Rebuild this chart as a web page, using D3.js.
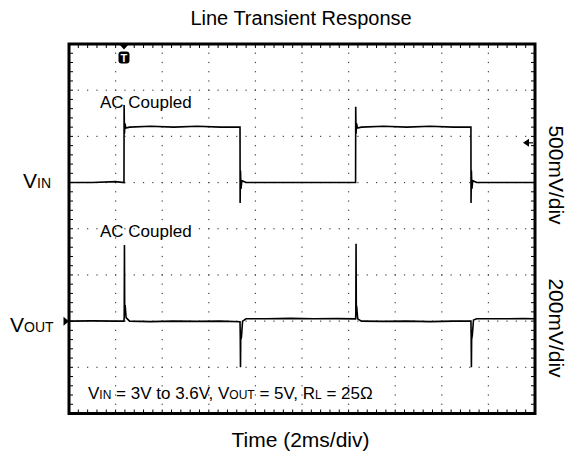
<!DOCTYPE html>
<html>
<head>
<meta charset="utf-8">
<script src="https://cdn.jsdelivr.net/npm/d3@7/dist/d3.min.js"></script>
<style>
  body { margin: 0; background: #fff; }
  svg { display: block; font-family: "Liberation Sans", Arial, sans-serif; }
</style>
</head>
<body>
<div id="chart"></div>
<script>
// Scope settings
const timeDomain = [0, 20];          // ms, 2ms/div, 10 div
const divDomain = [-4, 4];           // vertical divisions
const vinPerDiv = 0.5;               // V/div
const vinRefLevel = 3.0;             // V shown at vinRefPos
const vinRefPos = 1;                 // div
const voutPerDiv = 200;              // mV/div (AC coupled)
const voutRefPos = -2;               // div
const triggerTime = 2.36;            // ms
const triggerLevel = 3.43;           // V

// VIN trace (time in ms, volts)
const vinTime = [0, 1.0, 2.0, 2.36, 2.365, 2.38, 2.40, 2.44, 2.6, 3.5, 4.5, 5.5, 6.5, 7.34,
  7.345, 7.36, 7.38, 7.42, 7.6, 8.5, 9.5, 10.5, 11.5, 12.30, 12.305, 12.32, 12.34, 12.38,
  12.55, 13.5, 14.5, 15.5, 16.5, 17.25, 17.255, 17.27, 17.29, 17.33, 17.5, 18.5, 19.5, 20];
const vinVolts = [3.00, 3.00, 3.01, 3.00, 3.84, 3.53, 3.64, 3.59, 3.60, 3.61, 3.60, 3.61, 3.60, 3.60,
  2.78, 3.13, 2.93, 3.02, 3.00, 3.00, 3.00, 3.00, 3.00, 3.00, 3.82, 3.53, 3.64, 3.59,
  3.60, 3.61, 3.60, 3.61, 3.60, 3.60, 2.78, 3.13, 2.93, 3.02, 3.00, 3.00, 3.00, 3.00];

// VOUT trace (time in ms, mV deviation)
const voutTime = [0, 1.0, 2.0, 2.36, 2.37, 2.38, 2.39, 2.41, 2.45, 2.6, 3.5, 4.5, 5.5, 6.5, 7.34,
  7.35, 7.36, 7.37, 7.40, 7.45, 7.6, 8.5, 9.5, 10.5, 11.5, 12.30, 12.31, 12.32, 12.33, 12.35,
  12.39, 12.55, 13.5, 14.5, 15.5, 16.5, 17.25, 17.26, 17.27, 17.28, 17.31, 17.36, 17.5, 18.5, 19.5, 20];
const voutMv = [0, 1, 0, 0, 20, 330, 60, 70, 15, 0, -2, 0, -1, 0, -3,
  -60, -200, -80, -70, 0, 10, 10, 12, 10, 11, 10, 30, 335, 70, 60,
  10, 0, -1, 0, -2, 0, 0, -60, -200, -80, -60, 5, 10, 10, 11, 10];

const titleText = 'Line Transient Response';
const xAxisText = 'Time (2ms/div)';
const vinScaleText = '500mV/div';
const voutScaleText = '200mV/div';
const couplingText = 'AC Coupled';

const width = 570, height = 454;
const svg = d3.select('#chart').append('svg')
  .attr('width', width)
  .attr('height', height);

const x = d3.scaleLinear().domain(timeDomain).range([69, 535]);
const y = d3.scaleLinear().domain(divDomain).range([413.5, 44]);

const vinDiv = v => (v - vinRefLevel) / vinPerDiv + vinRefPos;
const voutDiv = mv => mv / voutPerDiv + voutRefPos;

// Grid dots along major divisions
const majorX = d3.range(1, 10).map(i => i * 2);
const majorY = d3.range(-3, 4);
const minorX = d3.range(0, 51).map(i => i * 0.4);
const minorY = d3.range(0, 41).map(i => -4 + i * 0.2);

const grid = svg.append('g').attr('fill', '#444');
majorX.forEach(t => {
  grid.selectAll(null)
    .data(minorY)
    .enter().append('rect')
    .attr('x', x(t) - 0.6)
    .attr('y', d => y(d) - 0.6)
    .attr('width', 1.2)
    .attr('height', 1.2);
});
majorY.forEach(dv => {
  grid.selectAll(null)
    .data(minorX)
    .enter().append('rect')
    .attr('x', d => x(d) - 0.6)
    .attr('y', y(dv) - 0.6)
    .attr('width', 1.2)
    .attr('height', 1.2);
});

// Border ticks
const ticks = svg.append('g').attr('stroke', '#000').attr('stroke-width', 1);
ticks.selectAll('.tt').data(minorX).enter().append('line')
  .attr('x1', d => x(d)).attr('x2', d => x(d))
  .attr('y1', y(4)).attr('y2', y(4) + 4);
ticks.selectAll('.tb').data(minorX).enter().append('line')
  .attr('x1', d => x(d)).attr('x2', d => x(d))
  .attr('y1', y(-4)).attr('y2', y(-4) - 4);
ticks.selectAll('.tl').data(minorY).enter().append('line')
  .attr('x1', x(0)).attr('x2', x(0) + 4)
  .attr('y1', d => y(d)).attr('y2', d => y(d));
ticks.selectAll('.tr').data(minorY).enter().append('line')
  .attr('x1', x(20)).attr('x2', x(20) - 4)
  .attr('y1', d => y(d)).attr('y2', d => y(d));

// Traces
const vinData = vinTime.map((t, i) => ({ t, v: vinDiv(vinVolts[i]) }));
const voutData = voutTime.map((t, i) => ({ t, v: voutDiv(voutMv[i]) }));
const line = d3.line().x(d => x(d.t)).y(d => y(d.v));

svg.append('path')
  .datum(vinData)
  .attr('fill', 'none')
  .attr('stroke', '#000')
  .attr('stroke-width', 1.6)
  .attr('d', line);

svg.append('path')
  .datum(voutData)
  .attr('fill', 'none')
  .attr('stroke', '#000')
  .attr('stroke-width', 1.6)
  .attr('d', line);

// Frame
svg.append('rect')
  .attr('x', x(0)).attr('y', y(4))
  .attr('width', x(20) - x(0)).attr('height', y(-4) - y(4))
  .attr('fill', 'none')
  .attr('stroke', '#000')
  .attr('stroke-width', 3);

// Trigger position marker
const tx = x(triggerTime), ty = y(4);
svg.append('path')
  .attr('d', `M${tx - 5},${ty} L${tx + 5},${ty} L${tx},${ty + 5.5} Z`)
  .attr('fill', '#000');
svg.append('rect')
  .attr('x', tx - 5.5).attr('y', ty + 7.5)
  .attr('width', 11).attr('height', 12)
  .attr('rx', 3)
  .attr('fill', '#000');
svg.append('text')
  .attr('x', tx).attr('y', ty + 17.5)
  .attr('text-anchor', 'middle')
  .attr('fill', '#fff')
  .style('font-size', '11px')
  .style('font-weight', 'bold')
  .text('T');

// Trigger level marker (right)
const ly = y(vinDiv(triggerLevel));
svg.append('path')
  .attr('d', `M${x(20) - 12},${ly} L${x(20) - 6},${ly - 4} L${x(20) - 6},${ly + 4} Z`)
  .attr('fill', '#000');
svg.append('line')
  .attr('x1', x(20) - 7).attr('x2', x(20) - 2)
  .attr('y1', ly).attr('y2', ly)
  .attr('stroke', '#000').attr('stroke-width', 1.2);

// VOUT ground marker (left)
const gy = y(voutRefPos);
svg.append('path')
  .attr('d', `M${x(0) - 5.5},${gy - 4.5} L${x(0)},${gy} L${x(0) - 5.5},${gy + 4.5} Z`)
  .attr('fill', '#000');

// Text
svg.append('text')
  .attr('x', 301).attr('y', 25)
  .attr('text-anchor', 'middle')
  .style('font-size', '20px')
  .text(titleText);

svg.append('text')
  .attr('x', 300.5).attr('y', 447)
  .attr('text-anchor', 'middle')
  .style('font-size', '21px')
  .text(xAxisText);

[[108], [237]].forEach(([by]) => {
  svg.append('text')
    .attr('x', 100).attr('y', by)
    .style('font-size', '17px')
    .text(couplingText);
});

function subLabel(px, py, parts, big, small) {
  const t = svg.append('text').attr('x', px).attr('y', py);
  parts.forEach(([s, sub]) => {
    t.append('tspan')
      .style('font-size', sub ? small : big)
      .text(s);
  });
  return t;
}

subLabel(23, 188, [['V', 0], ['IN', 1]], '21px', '14px');
subLabel(10, 332, [['V', 0], ['OUT', 1]], '21px', '14px');
subLabel(88, 399, [
  ['V', 0], ['IN', 1], [' = 3V to 3.6V, V', 0], ['OUT', 1], [' = 5V, R', 0], ['L', 1], [' = 25\u03A9', 0]
], '17px', '12px');

[[vinScaleText, 175], [voutScaleText, 328]].forEach(([s, cy]) => {
  svg.append('text')
    .attr('transform', `translate(556.5,${cy}) rotate(90)`)
    .attr('text-anchor', 'middle')
    .attr('dominant-baseline', 'central')
    .style('font-size', '21px')
    .text(s);
});
</script>
</body>
</html>
